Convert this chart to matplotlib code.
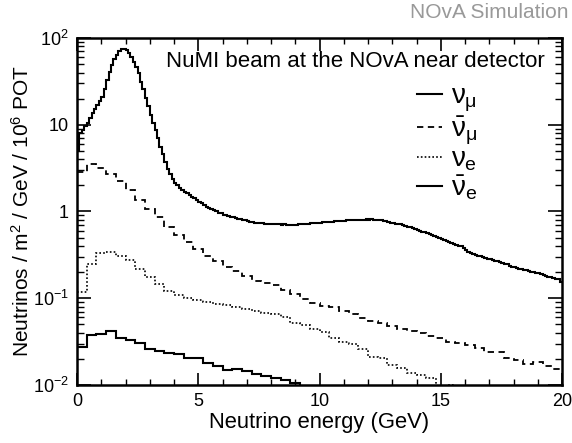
import numpy as np
import matplotlib
matplotlib.use('Agg')
import matplotlib.pyplot as plt
from matplotlib.ticker import FixedLocator, FixedFormatter, LogLocator, NullFormatter, MultipleLocator

plt.rcParams['font.family'] = ['Liberation Sans', 'DejaVu Sans']
plt.rcParams['mathtext.fontset'] = 'custom'
plt.rcParams['mathtext.rm'] = 'Liberation Sans'
plt.rcParams['mathtext.it'] = 'Liberation Sans'
plt.rcParams['mathtext.bf'] = 'Liberation Sans:bold'

# numu flux, 0.1 GeV bins from 0 to 20 GeV
numu = [5.0, 8.0, 8.8, 9.6, 10.5, 12.0, 13.6, 15.2, 16.9, 18.8,
        21.0, 26.0, 33.0, 41.0, 49.0, 57.0, 64.0, 70.0, 74.0, 75.5,
        72.0, 67.0, 61.0, 53.0, 46.0, 39.0, 31.0, 25.5, 20.5, 16.5,
        12.8, 10.5, 8.8, 7.0, 5.6, 4.6, 3.7, 3.1, 2.7, 2.35,
        2.15, 2.0, 1.88, 1.78, 1.70, 1.63, 1.56, 1.48, 1.42, 1.36,
        1.30, 1.25, 1.19, 1.14, 1.10, 1.06, 1.03, 1.00, 0.97, 0.95,
        0.92, 0.91, 0.89, 0.87, 0.855, 0.845, 0.83, 0.815, 0.80, 0.79,
        0.78, 0.765, 0.755, 0.745, 0.74, 0.73, 0.735, 0.725, 0.72, 0.72,
        0.715, 0.718, 0.71, 0.712, 0.705, 0.71, 0.703, 0.70, 0.705, 0.70,
        0.705, 0.71, 0.712, 0.715, 0.72, 0.725, 0.73, 0.735, 0.74, 0.742,
        0.745, 0.75, 0.755, 0.76, 0.758, 0.765, 0.77, 0.772, 0.778, 0.78,
        0.785, 0.79, 0.793, 0.797, 0.80, 0.80, 0.805, 0.802, 0.808, 0.81,
        0.806, 0.81, 0.803, 0.80, 0.795, 0.79, 0.783, 0.77, 0.757, 0.745,
        0.735, 0.725, 0.718, 0.71, 0.695, 0.68, 0.665, 0.655, 0.64, 0.625,
        0.61, 0.60, 0.585, 0.575, 0.56, 0.55, 0.535, 0.525, 0.51, 0.497,
        0.485, 0.47, 0.462, 0.45, 0.437, 0.425, 0.413, 0.405, 0.40, 0.375,
        0.36, 0.345, 0.335, 0.325, 0.318, 0.31, 0.305, 0.295, 0.29, 0.285,
        0.282, 0.275, 0.271, 0.267, 0.262, 0.258, 0.25, 0.245, 0.238, 0.232,
        0.228, 0.224, 0.22, 0.217, 0.214, 0.21, 0.206, 0.203, 0.199, 0.197,
        0.193, 0.19, 0.186, 0.182, 0.178, 0.175, 0.17, 0.166, 0.168, 0.152]

# other flavours, 0.4 GeV bins
numubar = [2.82, 3.49, 3.20, 2.73, 2.24, 1.75, 1.37, 1.07, 0.86, 0.671,
           0.542, 0.442, 0.371, 0.310, 0.271, 0.227, 0.208, 0.182, 0.159, 0.150,
           0.143, 0.124, 0.112, 0.098, 0.0871, 0.0819, 0.0783, 0.0717, 0.0656, 0.059,
           0.055, 0.0512, 0.0481, 0.044, 0.0414, 0.0396, 0.0368, 0.0347, 0.0317, 0.0301,
           0.029, 0.0266, 0.0243, 0.0237, 0.0203, 0.0193, 0.0173, 0.0186, 0.0166, 0.0152]

nue = [0.117, 0.248, 0.330, 0.339, 0.310, 0.276, 0.217, 0.174, 0.146, 0.122,
       0.110, 0.102, 0.0953, 0.0894, 0.0857, 0.0834, 0.0783, 0.075, 0.0717, 0.0675,
       0.0656, 0.060, 0.0525, 0.0494, 0.044, 0.0403, 0.0347, 0.0317, 0.0295, 0.0259,
       0.0212, 0.0207, 0.0170, 0.0158, 0.0139, 0.0131, 0.0121, 0.0095, 0.0101, 0.008]

nuebar = [0.0275, 0.0375, 0.0386, 0.042, 0.0352, 0.0329, 0.0303, 0.0258, 0.0247, 0.0236,
          0.0226, 0.0207, 0.0203, 0.0181, 0.0166, 0.0148, 0.0152, 0.0145, 0.0135, 0.0127,
          0.0121, 0.0115, 0.0105, 0.008]

fine_w = 0.1
coarse_w = 0.4

fig = plt.figure(figsize=(5.72, 4.43), dpi=100)
ax = fig.add_axes([77/572, 1-385/443, (562-77)/572, (385-38)/443])

def edges(vals, w):
    return np.arange(len(vals) + 1) * w

ax.stairs(numu, edges(numu, fine_w), baseline=None, color='black', lw=1.5, label=r'$\nu_{\mu}$')
ax.stairs(numubar, edges(numubar, coarse_w), baseline=None, color='black', lw=1.3,
          linestyle=(0, (3.5, 2.5)), label=r'$\bar{\nu}_{\mu}$')
ax.stairs(nue, edges(nue, coarse_w), baseline=None, color='black', lw=1.2,
          linestyle=(0, (1, 1.3)), label=r'$\nu_{e}$')
ax.stairs(nuebar, edges(nuebar, coarse_w), baseline=None, color='black', lw=1.5,
          label=r'$\bar{\nu}_{e}$')

ax.set_yscale('log')
ax.set_xlim(0, 20)
ax.set_ylim(1e-2, 1e2)

ax.xaxis.set_major_locator(MultipleLocator(5))
ax.xaxis.set_minor_locator(MultipleLocator(1))
ax.yaxis.set_major_locator(FixedLocator([1e-2, 1e-1, 1, 10, 1e2]))
ax.yaxis.set_major_formatter(FixedFormatter([r'$10^{-2}$', r'$10^{-1}$', '1', '10', r'$10^{2}$']))
ax.yaxis.set_minor_locator(LogLocator(base=10, subs=np.arange(2, 10)))
ax.yaxis.set_minor_formatter(NullFormatter())

ax.tick_params(axis='both', which='both', direction='in', top=True, right=True, labelsize=13)
ax.tick_params(axis='x', which='major', length=9, width=1.2, pad=6)
ax.tick_params(axis='x', which='minor', length=4.5, width=1.0)
ax.tick_params(axis='y', which='major', length=10, width=1.2, pad=6)
ax.tick_params(axis='y', which='minor', length=5, width=1.0)
for s in ax.spines.values():
    s.set_linewidth(1.8)

ax.set_xlabel('Neutrino energy (GeV)', fontsize=15.8, labelpad=1)
ax.set_ylabel(r'Neutrinos / m$^{2}$ / GeV / 10$^{6}$ POT', fontsize=15, labelpad=0)

ax.text(0.575, 0.931, 'NuMI beam at the NOvA near detector', transform=ax.transAxes,
        fontsize=16, ha='center', va='center')
fig.text(568/572, 1-12/443, 'NOvA Simulation', color='#999999', fontsize=15,
         ha='right', va='center')

ax.legend(loc='upper left', bbox_to_anchor=(0.673, 0.908), frameon=False, fontsize=20,
          handlelength=0.9, handletextpad=0.3, labelspacing=0.0, borderpad=0)

fig.savefig('out.png', dpi=100)
